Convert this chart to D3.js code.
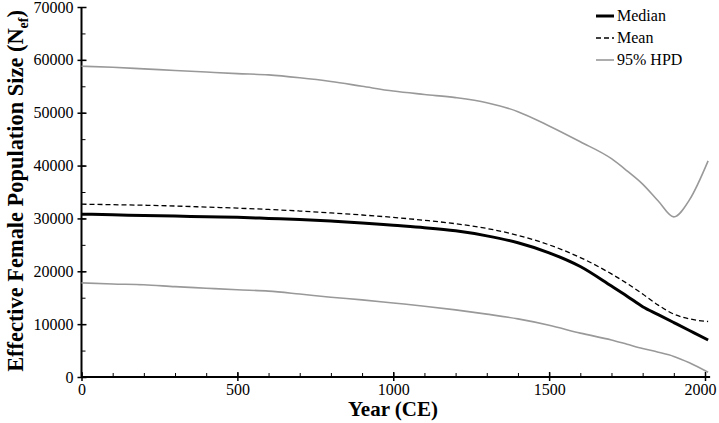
<!DOCTYPE html>
<html><head><meta charset="utf-8">
<script src="https://cdn.jsdelivr.net/npm/d3@7"></script>
<style>
body{margin:0;background:#fff;}
</style></head>
<body>
<svg id="chart" width="719" height="423"></svg>
<script>
const years  = [0,100,200,300,400,500,600,700,800,900,1000,1100,1200,1300,1400,1500,1600,1700,1750,1800,1850,1900,1950,2010];
const median = [30800,30700,30550,30450,30300,30200,30000,29800,29500,29150,28700,28250,27650,26700,25400,23500,20900,17200,15300,13300,11800,10300,8800,7000];
const mean   = [32700,32600,32500,32350,32150,31950,31700,31400,31050,30650,30200,29650,29000,28100,26800,25000,22600,19500,17700,15700,13600,11900,11000,10500];
const hpdUpper = [58800,58600,58300,58000,57700,57400,57150,56600,55900,55000,54100,53450,52850,51900,50200,47500,44500,41300,39000,36500,33300,30300,33500,40900];
const hpdLower = [17800,17600,17450,17100,16800,16500,16250,15700,15100,14600,14000,13400,12700,11900,11000,9800,8300,7000,6200,5400,4700,3900,2700,900];
const xTicks = [0,500,1000,1500,2000];
const yTicks = [0,10000,20000,30000,40000,50000,60000,70000];
const legendLabels = ["Median","Mean","95% HPD"];

const FONT = '"Liberation Serif", Tinos, "Times New Roman", serif';
const svg = d3.select("#chart");
const x = d3.scaleLinear().domain([0,2000]).range([81.5,705]);
const y = d3.scaleLinear().domain([0,70000]).range([377,7]);

// x axis
const gx = svg.append("g").attr("transform","translate(0,377)");
gx.append("g").call(d3.axisBottom(x).tickValues(d3.range(0,2001,100)).tickSize(-4).tickFormat(""))
  .call(g=>g.select(".domain").remove())
  .selectAll("line").attr("stroke","#000").attr("stroke-width",1);
gx.append("g").call(d3.axisBottom(x).tickValues(xTicks).tickSize(4).tickPadding(3).tickFormat(d3.format("d")))
  .call(g=>g.select(".domain").attr("d",`M${x(0)},0H${x(2010)+2}`).attr("stroke-width",2))
  .call(g=>g.selectAll("line").attr("y1",-5).attr("stroke-width",1.5))
  .selectAll("text").attr("font-size",16).style("font-family",FONT).attr("fill","#000")
  .filter(d=>d===2000).attr("text-anchor","end").attr("x",11);

// y axis
const gy = svg.append("g").attr("transform","translate(81.5,0)");
gy.append("g").call(d3.axisLeft(y).tickValues(d3.range(0,70001,5000)).tickSize(-4).tickFormat(""))
  .call(g=>g.select(".domain").remove())
  .selectAll("line").attr("stroke","#000").attr("stroke-width",1);
gy.append("g").call(d3.axisLeft(y).tickValues(yTicks).tickSize(4).tickPadding(4).tickFormat(d3.format("d")))
  .call(g=>g.select(".domain").attr("d",`M0,${y(0)}V${y(70000)}`).attr("stroke-width",2))
  .call(g=>g.selectAll("line").attr("x1",5).attr("stroke-width",1.5))
  .selectAll("text").attr("font-size",16).style("font-family",FONT).attr("fill","#000");

const line = arr => d3.line().x((d,i)=>x(years[i])).y(d=>y(d)).curve(d3.curveMonotoneX)(arr);

svg.append("path").attr("d",line(hpdUpper)).attr("fill","none").attr("stroke","#999").attr("stroke-width",1.6);
svg.append("path").attr("d",line(hpdLower)).attr("fill","none").attr("stroke","#999").attr("stroke-width",1.6);
svg.append("path").attr("d",line(mean)).attr("fill","none").attr("stroke","#000").attr("stroke-width",1.3).attr("stroke-dasharray","5,3");
svg.append("path").attr("d",line(median)).attr("fill","none").attr("stroke","#000").attr("stroke-width",3);

// legend
const styles = [{c:"#000",w:3,d:null},{c:"#000",w:1.3,d:"5,3"},{c:"#999",w:1.6,d:null}];
const lg = svg.append("g");
legendLabels.forEach((lab,i)=>{
  const yy = 16 + i*22;
  lg.append("line").attr("x1",596).attr("x2",614).attr("y1",yy).attr("y2",yy)
    .attr("stroke",styles[i].c).attr("stroke-width",styles[i].w).attr("stroke-dasharray",styles[i].d);
  lg.append("text").attr("x",617).attr("y",yy+5).attr("font-size",16).style("font-family",FONT).text(lab);
});

// axis titles
svg.append("text").attr("x",393).attr("y",416).attr("text-anchor","middle").style("font-family",FONT)
  .attr("font-size",21).attr("font-weight","bold").text("Year (CE)");
const yt = svg.append("text").attr("transform","translate(23,191) rotate(-90)").style("font-family",FONT)
  .attr("text-anchor","middle").attr("font-size",24).attr("font-weight","bold");
yt.append("tspan").text("Effective Female Population Size (N");
yt.append("tspan").attr("font-size",15).attr("dy",5).text("ef");
yt.append("tspan").attr("dy",-5).text(")");
// fit title length to reference span (~362px)
const L = yt.node().getComputedTextLength();
if (L > 0) {
  const fs = 24 * 362 / L;
  yt.attr("font-size", fs);
  yt.selectAll("tspan").filter((d,i)=>i===1).attr("font-size", fs*0.62);
}
</script>
</body></html>
